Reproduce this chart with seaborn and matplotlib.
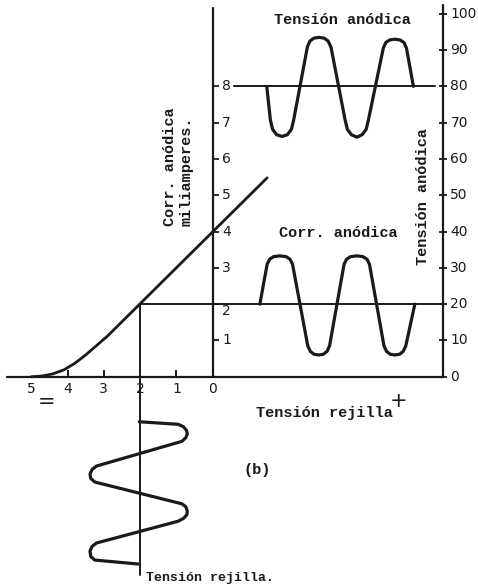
import numpy as np
import pandas as pd
import matplotlib
matplotlib.use("Agg")
import matplotlib.pyplot as plt
import seaborn as sns

# ---------------- data ----------------
# labelled grid-voltage ticks (negative side, volts)
grid_ticks = [-5, -4, -3, -2, -1, 0]
grid_labels = ["5", "4", "3", "2", "1", "0"]
# anode-current ticks (mA), left axis
current_ticks = [1, 2, 3, 4, 5, 6, 7, 8]
# anode-voltage ticks (V), right axis
anode_ticks = [0, 10, 20, 30, 40, 50, 60, 70, 80, 90, 100]

# transfer characteristic Ia (mA) vs Vg (V)
char_vg = [-5.0, -4.7, -4.4, -4.1, -3.8, -3.5, -3.2, -2.9, 1.5]
char_ia = [0.0, 0.02, 0.08, 0.19, 0.37, 0.60, 0.86, 1.12, 5.48]

# operating point
bias_vg = -2.0
bias_ia = 2.0
bias_va = 80.0

# anode voltage waveform (time axis horizontal, volts)
va_t = [1.49, 1.59, 1.65, 1.76, 1.91, 2.06, 2.17, 2.23, 2.61, 2.68, 2.79, 2.93,
        3.07, 3.18, 3.26, 3.65, 3.71, 3.82, 3.97, 4.12, 4.23, 4.29, 4.70, 4.77,
        4.88, 5.02, 5.16, 5.27, 5.34, 5.53]
va_w = [80, 70.7, 68.2, 66.7, 66.2, 66.7, 68.2, 70.7, 90.9, 92.5, 93.3, 93.5,
        93.3, 92.5, 90.8, 70.7, 68.2, 66.7, 66.0, 66.7, 68.2, 70.7, 90.5, 92.1,
        92.8, 93.0, 92.8, 92.1, 90.5, 80]

# anode current waveform (time axis horizontal, mA)
ia_t = [1.30, 1.50, 1.57, 1.68, 1.85, 2.02, 2.13, 2.20, 2.62, 2.69, 2.79, 2.92,
        3.05, 3.15, 3.22, 3.62, 3.69, 3.80, 3.97, 4.14, 4.25, 4.32, 4.72, 4.79,
        4.89, 5.02, 5.15, 5.25, 5.32, 5.57]
ia_w = [2.0, 3.10, 3.24, 3.31, 3.33, 3.31, 3.24, 3.10, 0.85, 0.70, 0.62, 0.60,
        0.62, 0.70, 0.85, 3.10, 3.24, 3.31, 3.33, 3.31, 3.24, 3.10, 0.85, 0.70,
        0.62, 0.60, 0.62, 0.70, 0.85, 2.0]

# grid voltage waveform (time axis vertical, downward)
vg_w = [-2.02, -0.95, -0.80, -0.72, -0.70, -0.74, -0.85, -3.20, -3.32, -3.38,
        -3.36, -3.25, -0.85, -0.74, -0.70, -0.71, -0.80, -0.95, -3.20, -3.32,
        -3.38, -3.36, -3.25, -2.05]
vg_t = [-1.24, -1.31, -1.38, -1.48, -1.58, -1.68, -1.78, -2.46, -2.55, -2.68,
        -2.80, -2.90, -3.50, -3.58, -3.70, -3.80, -3.90, -3.98, -4.58, -4.67,
        -4.80, -4.95, -5.05, -5.16]

# ---------------- style ----------------
sns.set_theme(style="white")
plt.rcParams["font.family"] = ["DejaVu Sans"]
MONO = ["Liberation Mono", "DejaVu Sans Mono"]
INK = "#1a1a1a"

fig = plt.figure(figsize=(4.78, 5.88), dpi=100)
fig.patch.set_facecolor("white")
ax = fig.add_axes([0, 0, 1, 1])
ax.set_xlim(-5.86, 7.31)
ax.set_ylim(-5.82, 10.38)
ax.axis("off")

ax2 = ax.twinx()
ax2.set_ylim(-58.2, 103.8)
ax2.axis("off")

x_right = 6.35  # position of the anode-voltage axis

# ---- axes of the diagram ----
ax.plot([-5.67, x_right], [0, 0], color=INK, lw=1.6)           # grid-voltage axis
ax.plot([0, 0], [0, 10.15], color=INK, lw=1.6)                  # current axis
ax.plot([x_right, x_right], [0, 10.25], color=INK, lw=1.6)      # anode-voltage axis

# ticks
ax.plot([t for t in grid_ticks if t not in (-2, 0, -5)],
        [0] * 3, ls="none", marker=2, ms=5, mew=1.4, color=INK)
ax.plot([0] * len(current_ticks), current_ticks, ls="none", marker=1,
        ms=4, mew=1.3, color=INK)
ax2.plot([x_right] * len(anode_ticks), anode_ticks, ls="none", marker="_",
         ms=6, mew=1.3, color=INK)

# tick labels
for t, lab in zip(grid_ticks, grid_labels):
    ax.text(t, -0.34, lab, ha="center", va="center", fontsize=10, color=INK)
for t in current_ticks:
    ax.text(0.38, t - (0.2 if t == 2 else 0), str(t), ha="center", va="center",
            fontsize=10, color=INK)
for t in anode_ticks:
    ax2.text(6.55, t, str(t), ha="left", va="center", fontsize=10, color=INK)

# ---- transfer characteristic ----
sns.lineplot(x=char_vg, y=char_ia, sort=False, estimator=None, ax=ax,
             color=INK, lw=2.0)

# operating point construction lines
ax.plot([bias_vg, bias_vg], [bias_ia, -5.47], color=INK, lw=1.4)
ax.plot([bias_vg, x_right], [bias_ia, bias_ia], color=INK, lw=1.4)
ax2.plot([0.6, 6.13], [bias_va, bias_va], color=INK, lw=1.4)

# ---- waveforms ----
sns.lineplot(x=ia_t, y=ia_w, sort=False, estimator=None, ax=ax,
             color=INK, lw=2.3)
sns.lineplot(x=va_t, y=va_w, sort=False, estimator=None, ax=ax2,
             color=INK, lw=2.3)
sns.lineplot(x=vg_w, y=vg_t, sort=False, estimator=None, ax=ax,
             color=INK, lw=2.3)

# ---- texts ----
tkw = dict(family=MONO, fontsize=11, color=INK, fontweight="bold")
ax.text(3.58, 9.83, "Tensión anódica", ha="center", va="center", **tkw)
ax.text(3.46, 3.96, "Corr. anódica", ha="center", va="center", **tkw)
ax.text(-1.17, 5.78, "Corr. anódica", rotation=90, ha="center", va="center", **tkw)
ax.text(-0.73, 5.66, "miliamperes.", rotation=90, ha="center", va="center", **tkw)
ax.text(5.80, 4.97, "Tensión anódica", rotation=90, ha="center", va="center", **tkw)
ax.text(3.07, -0.99, "Tensión rejilla", ha="center", va="center", **tkw)
ax.text(5.11, -0.66, "+", ha="center", va="center", fontsize=15, color=INK)
ax.text(-4.59, -0.69, "=", ha="center", va="center", fontsize=15, color=INK)
ax.text(1.22, -2.57, "(b)", ha="center", va="center", **tkw)
ax.text(-0.07, -5.55, "Tensión rejilla.", ha="center", va="center",
        family=MONO, fontsize=9.5, color=INK, fontweight="bold")

fig.savefig("out.png", dpi=100, facecolor="white")
